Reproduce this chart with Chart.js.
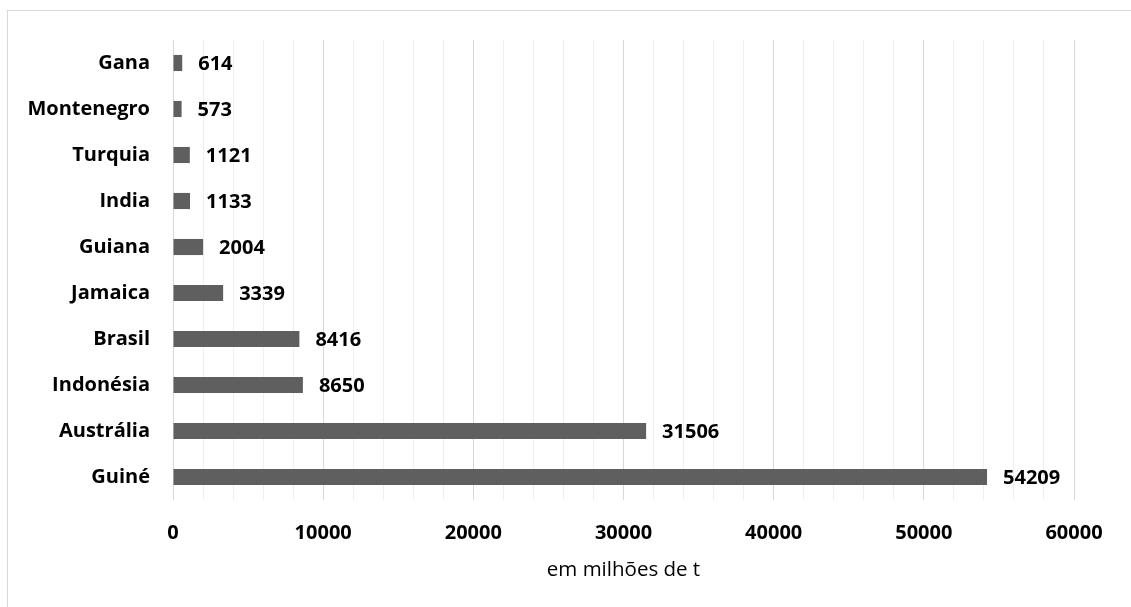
<!DOCTYPE html>
<html>
<head>
<meta charset="utf-8">
<script src="https://cdn.jsdelivr.net/npm/chart.js@4"></script>
<style>
    html, body { margin: 0; padding: 0; background: #fff; overflow: hidden; }
    #wrap { position: relative; width: 1131px; height: 607px; }
    #frame { position: absolute; left: 7px; top: 10px; width: 1300px; height: 800px; border: 1px solid #d9d9d9; box-sizing: border-box; }
    canvas { position: absolute; left: 0; top: 0; }
</style>
</head>
<body>
<div id="wrap">
    <div id="frame"></div>
    <canvas id="bauxita" width="1131" height="607"></canvas>
</div>
<script>
// Countries and production values
const paises = ['Gana', 'Montenegro', 'Turquia', 'India', 'Guiana', 'Jamaica', 'Brasil', 'Indonésia', 'Austrália', 'Guiné'];
const producao = [614, 573, 1121, 1133, 2004, 3339, 8416, 8650, 31506, 54209];
const eixoTitulo = 'em milhões de t';

const FONTE = "'Open Sans', sans-serif";

// Writes the value next to the end of each bar
const rotulosBarra = {
    id: 'rotulosBarra',
    afterDatasetsDraw(chart) {
        const ctx = chart.ctx;
        const meta = chart.getDatasetMeta(0);
        ctx.save();
        ctx.font = `bold 20px ${FONTE}`;
        ctx.fillStyle = '#000';
        ctx.textAlign = 'left';
        ctx.textBaseline = 'middle';
        meta.data.forEach((bar, i) => {
            ctx.fillText(String(producao[i]), bar.x + 16, bar.y + 1);
        });
        ctx.restore();
    }
};

const ctx = document.getElementById('bauxita').getContext('2d');
new Chart(ctx, {
    type: 'bar',
    data: {
        labels: paises,
        datasets: [{
            data: producao,
            backgroundColor: '#5f5f5f',
            borderWidth: 0,
            barPercentage: 0.35,
            categoryPercentage: 1
        }]
    },
    options: {
        indexAxis: 'y',
        responsive: false,
        animation: false,
        layout: { padding: { top: 40, right: 57, left: 0, bottom: 0 } },
        plugins: {
            legend: { display: false },
            tooltip: { enabled: false }
        },
        scales: {
            x: {
                min: 0,
                max: 60000,
                border: { display: false },
                grid: {
                    drawTicks: false,
                    color: c => (c.tick && c.tick.value % 10000 === 0) ? '#d9d9d9' : '#efefef'
                },
                ticks: {
                    stepSize: 2000,
                    autoSkip: false,
                    maxRotation: 0,
                    minRotation: 0,
                    padding: 21,
                    color: '#000',
                    font: { family: FONTE, size: 20, weight: 'bold' },
                    callback: v => (v % 10000 === 0 ? String(v) : '')
                },
                title: {
                    display: true,
                    text: eixoTitulo,
                    color: '#000',
                    font: { family: FONTE, size: 20.5 },
                    padding: { top: 0, bottom: 25 }
                },
                afterFit: s => { s.height = 107; }
            },
            y: {
                border: { display: false },
                grid: { display: false, drawTicks: false },
                ticks: {
                    padding: 23,
                    color: '#000',
                    font: { family: FONTE, size: 20, weight: 'bold' }
                },
                afterFit: s => { s.width = 173; }
            }
        }
    },
    plugins: [rotulosBarra]
});
</script>
</body>
</html>
